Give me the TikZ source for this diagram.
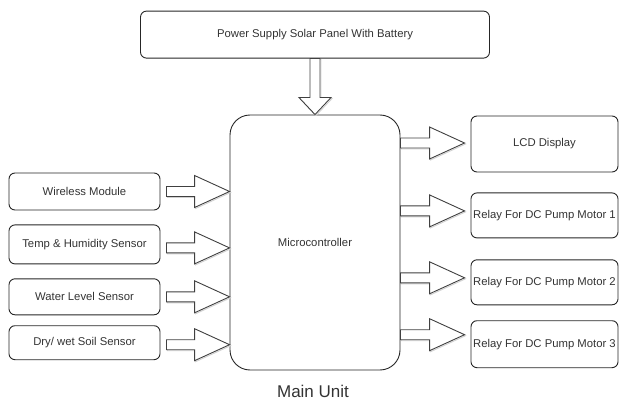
\documentclass[tikz,border=0pt]{standalone}
\usepackage{fontspec}
\setmainfont{Liberation Sans}
\usetikzlibrary{positioning}

\begin{document}
\begin{tikzpicture}[x=1pt, y=-1pt, node distance=14pt, line width=0.9pt,
        font=\fontsize{11.3}{13.5}\selectfont,
        box/.style={draw=black!85, rounded corners=6pt, minimum width=151pt, minimum height=37pt,
            inner sep=1pt, text=black!80},
        shade/.style={preaction={draw=black!18, transform canvas={shift={(1pt,-1pt)}}}},
        fat/.style={draw=black!75, fill=white, shade, to path={
            ([yshift=5pt]\tikztostart) -- ([xshift=-35pt,yshift=5pt]\tikztotarget)
            -- ([xshift=-35pt,yshift=16pt]\tikztotarget) -- (\tikztotarget)
            -- ([xshift=-35pt,yshift=-16pt]\tikztotarget) -- ([xshift=-35pt,yshift=-5pt]\tikztotarget)
            -- ([yshift=-5pt]\tikztostart) -- cycle}},
        dfat/.style={draw=black!75, fill=white, shade, to path={
            ([xshift=5pt]\tikztostart) -- ([xshift=5pt,yshift=17pt]\tikztotarget)
            -- ([xshift=16pt,yshift=17pt]\tikztotarget) -- (\tikztotarget)
            -- ([xshift=-16pt,yshift=17pt]\tikztotarget) -- ([xshift=-5pt,yshift=17pt]\tikztotarget)
            -- ([xshift=-5pt]\tikztostart) -- cycle}}]
    \useasboundingbox (0,0) rectangle (619,401);

    % main unit
    \node[box, minimum width=170pt, minimum height=255pt, rounded corners=20pt] (mc) at (315,242.5) {Microcontroller};
    \node[box, minimum width=349pt, minimum height=47pt] (ps) [above=56pt of mc] {Power Supply Solar Panel With Battery};

    % inputs
    \node[box] (wm) at (84.5,191.5) {Wireless Module};
    \node[box, minimum height=39pt] (th) [below=of wm] {Temp \& Humidity Sensor};
    \node[box, minimum height=36pt] (wl) [below=of th] {Water Level Sensor};
    \node[box, minimum height=34pt] (ds) [below=10pt of wl] {Dry/ wet Soil Sensor};

    % outputs
    \node[box, minimum width=147pt, minimum height=56pt] (lcd) at (544.5,144) {LCD Display};
    \node[box, minimum width=147pt, minimum height=45pt] (r1) [below=20pt of lcd] {Relay For DC Pump Motor 1};
    \node[box, minimum width=147pt, minimum height=45pt] (r2) [below=21pt of r1] {Relay For DC Pump Motor 2};
    \node[box, minimum width=147pt, minimum height=47pt] (r3) [below=15pt of r2] {Relay For DC Pump Motor 3};

    \node[font=\fontsize{17}{19}\selectfont, text=black!80, inner sep=1pt] (mu) at (313,391.5) {Main Unit};

    \draw[dfat] (ps.south) to (mc.north);
    \foreach \b/\s in {wm/0pt, th/-3.5pt, wl/0pt, ds/-2pt} {
        \coordinate (s\b) at ([xshift=6pt,yshift=\s]\b.east);
        \draw[fat] (s\b) to (s\b -| mc.west);
    }
    \foreach \b/\s in {lcd/1pt, r1/4.5pt, r2/4.5pt, r3/9.5pt} {
        \coordinate (t\b) at ([xshift=-6pt,yshift=\s]\b.west);
        \draw[fat] (mc.east |- t\b) to (t\b);
    }
\end{tikzpicture}
\end{document}
